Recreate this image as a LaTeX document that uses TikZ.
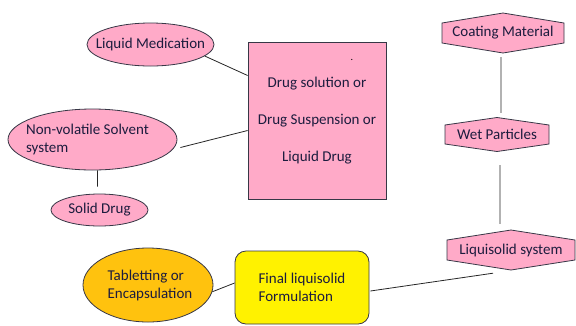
\documentclass[tikz,border=0pt]{standalone}
\usepackage{fontspec}
\setmainfont{Carlito}
\usetikzlibrary{positioning}
\usetikzlibrary{shapes.geometric}
\definecolor{pinkfill}{RGB}{255,170,200}
\definecolor{orangefill}{RGB}{255,194,14}
\definecolor{yellowfill}{RGB}{255,242,0}
\definecolor{edgecol}{RGB}{55,55,70}
\definecolor{textcol}{RGB}{28,28,62}
\tikzset{
	every node/.append style={font=\fontsize{15bp}{18bp}\selectfont,text=textcol},
	% ovals (text is put in as a centred label, so the size stays as given)
	pinkoval/.style={ellipse,draw=edgecol,fill=pinkfill,line width=0.8bp,inner sep=0pt},
	orangeoval/.style={ellipse,draw=edgecol,fill=orangefill,line width=0.8bp,inner sep=0pt},
	ovaltext/.style={align=left,inner sep=0pt},
	% boxes
	drugbox/.style={rectangle,draw=edgecol,fill=pinkfill,line width=0.8bp,inner sep=0pt,align=center},
	yellowbox/.style={rectangle,rounded corners=11bp,draw=edgecol,fill=yellowfill,line width=0.8bp,inner sep=0pt,align=left},
	% hexagons
	hexline/.style={draw=edgecol,fill=pinkfill,line width=0.8bp},
	hextext/.style={rectangle,inner sep=0pt},
	% connectors
	joinline/.style={draw=black!85,line width=0.8bp},
}
% hexagon with a peak on top and bottom: name, x, y, width, height, peak, text
\newcommand{\hexnode}[7]{%
	\draw[hexline] ({#2-#4/2},{#3-#5/2}) -- (#2,{#3-#5/2-#6}) -- ({#2+#4/2},{#3-#5/2})
		-- ({#2+#4/2},{#3+#5/2}) -- (#2,{#3+#5/2+#6}) -- ({#2-#4/2},{#3+#5/2}) -- cycle;
	\node[hextext,minimum width=#4 bp,minimum height=#5 bp] (#1) at (#2,#3) {#7};}

\begin{document}
\begin{tikzpicture}[x=1bp,y=-1bp]
\useasboundingbox (0,0) rectangle (576,325);
% left hand side
\node[pinkoval,minimum width=127bp,minimum height=43bp,
	label={[ovaltext]center:Liquid Medication}] (liqmed) at (150.5,44.5) {};
\node[pinkoval,minimum width=169bp,minimum height=61bp,
	label={[ovaltext,xshift=-5bp]center:Non-volatile Solvent\\system}] (solvent) at (92.5,139.5) {};
\node[pinkoval,minimum width=97bp,minimum height=32bp,
	label={[ovaltext]center:Solid Drug}] (soldrug) at (99.5,210) {};
\node[drugbox,minimum width=138bp,minimum height=157bp,font=\fontsize{15bp}{37bp}\selectfont] (drug) at (317,120.5)
	{Drug solution or\\Drug Suspension or\\Liquid Drug};
\node[inner sep=0pt,font=\fontsize{10bp}{12bp}\selectfont,text=black] (dot) at (352,60) {.};
% right hand side
\hexnode{coat}{503}{33}{122}{20}{10}{Coating Material}
\hexnode{wet}{497}{134.5}{104}{19}{7.5}{Wet Particles}
\hexnode{liqsol}{511}{250}{128}{20}{10}{Liquisolid system}
% bottom row
\node[yellowbox,minimum width=134bp,minimum height=73bp] (final) at (302,287.5) {Final liquisolid\\Formulation};
\node[orangeoval,minimum width=130bp,minimum height=74bp,
	label={[ovaltext,xshift=2bp]center:Tabletting or\\Encapsulation}] (tablet) at (148,285) {};
% the connecting lines
\draw[joinline] (liqmed.-12) -- ([yshift=45bp]drug.west);
\draw[joinline] ([shift={(3bp,-8bp)}]solvent.east) -- ([yshift=-10bp]drug.west);
\draw[joinline] ([xshift=5bp]solvent.south) -- ([shift={(-2bp,7bp)}]soldrug.north);
\draw[joinline] ([shift={(-2bp,-14bp)}]coat.south) -- ([shift={(4bp,12bp)}]wet.north);
\draw[joinline] ([shift={(3bp,-21bp)}]wet.south) -- ([shift={(-11bp,16bp)}]liqsol.north);
\draw[joinline] ([shift={(-18bp,-13bp)}]liqsol.south) -- ([shift={(1bp,-3.5bp)}]final.east);
\draw[joinline] (tablet.-6) -- ([yshift=4.5bp]final.west);
\end{tikzpicture}
\end{document}
